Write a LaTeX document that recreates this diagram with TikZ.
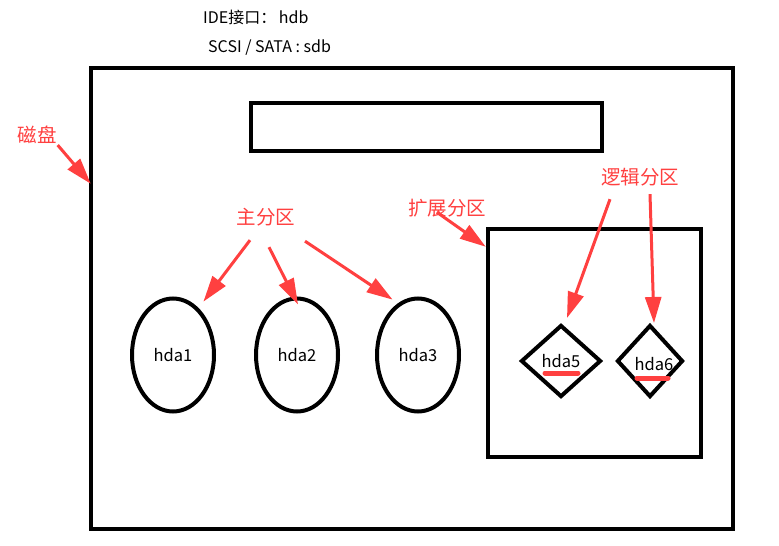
\documentclass[tikz,border=0pt]{standalone}
\usepackage{fontspec}
\setmainfont{Noto Sans CJK SC}
\newfontfamily\cjk{Noto Sans CJK SC}
\usetikzlibrary{arrows.meta, positioning, shapes.geometric}
\definecolor{markred}{RGB}{255,64,64}
\tikzset{
  box/.style = {draw, line width=4.5pt, inner sep=0pt},
  primary/.style = {draw, ellipse, line width=4pt, inner sep=0pt,
                    minimum width=82pt, minimum height=113pt,
                    font=\fontsize{16.5}{18}\selectfont},
  logical/.style = {draw, diamond, line width=4pt, inner sep=0pt,
                    minimum width=80pt, minimum height=72pt,
                    font=\fontsize{16.5}{18}\selectfont},
  note/.style = {text=markred, inner sep=1pt, font=\cjk\fontsize{19.5}{21}\selectfont},
  info/.style = {anchor=west, inner sep=0pt, font=\fontsize{16}{18}\selectfont},
  pointer/.style = {markred, line width=3pt,
                    arrows={-Triangle[length=26pt, width=16pt]}},
  underline/.style = {markred, line width=5pt, line cap=round},
}
\begin{document}
\begin{tikzpicture}[x=1pt, y=-1pt]
  \useasboundingbox [fill=white] (0,0) rectangle (779,546);

  %% Interface names on top
  \node [info] (ide) at (203,17) {IDE接口：\,hdb};
  \node [info] (scsi) at (208,48) {SCSI / SATA : sdb};

  %% Disk and its header block
  \node [box, minimum width=642pt, minimum height=461pt] (disk) at (412,298.5) {};
  \node [box, minimum width=351pt, minimum height=48pt] (mbr) at (426.5,127) {};
  \node [note] (disklabel) at (37,135) {磁盘};
  \draw [pointer] (disklabel.south east) -- ([xshift=2pt, yshift=-118pt] disk.north west);

  %% Primary partitions
  \node [primary] (hda1) at (173,355) {hda1};
  \node [primary, right=38pt of hda1] (hda2) {hda2};
  \node [primary, right=35pt of hda2] (hda3) {hda3};
  \node [note] (primlabel) at (266,217) {主分区};
  \draw [pointer] ([xshift=-16pt, yshift=-13pt] primlabel.south) -- ([xshift=0pt, yshift=12pt] hda1.north east);
  \draw [pointer] ([xshift=3pt, yshift=-20pt] primlabel.south) -- ([xshift=1pt, yshift=-8pt] hda2.north);
  \draw [pointer] ([xshift=39pt, yshift=-14pt] primlabel.south) -- ([xshift=5pt, yshift=14pt] hda3.north west);

  %% Extended partition with logical drives
  \node [box, minimum width=213pt, minimum height=228pt] (ext) at (594.5,343) {};
  \node [note] (extlabel) at (447,208) {扩展分区};
  \draw [pointer] ([xshift=30pt, yshift=6pt] extlabel.south west) -- ([yshift=-20pt] ext.north west);

  \node [logical] (hda5) at (561,361) {hda5};
  \node [logical, minimum width=66pt, right=12pt of hda5] (hda6) {};
  \node [font=\fontsize{16.5}{18}\selectfont, inner sep=0pt] (hda6text) at ([xshift=4pt, yshift=-3pt] hda6.center) {hda6};
  \draw [underline] ([xshift=-16pt, yshift=-12pt] hda5.center) -- ++(33pt,0);
  \draw [underline] ([xshift=-13pt, yshift=-17pt] hda6.center) -- ++(31pt,0);
  \node [note] (loglabel) at (640,177) {逻辑分区};
  \draw [pointer] ([xshift=-30pt, yshift=-12pt] loglabel.south) -- ([xshift=6pt, yshift=5pt] hda5.north);
  \draw [pointer] ([xshift=10pt, yshift=-7pt] loglabel.south) -- ([xshift=4pt, yshift=0pt] hda6.north);
\end{tikzpicture}
\end{document}
